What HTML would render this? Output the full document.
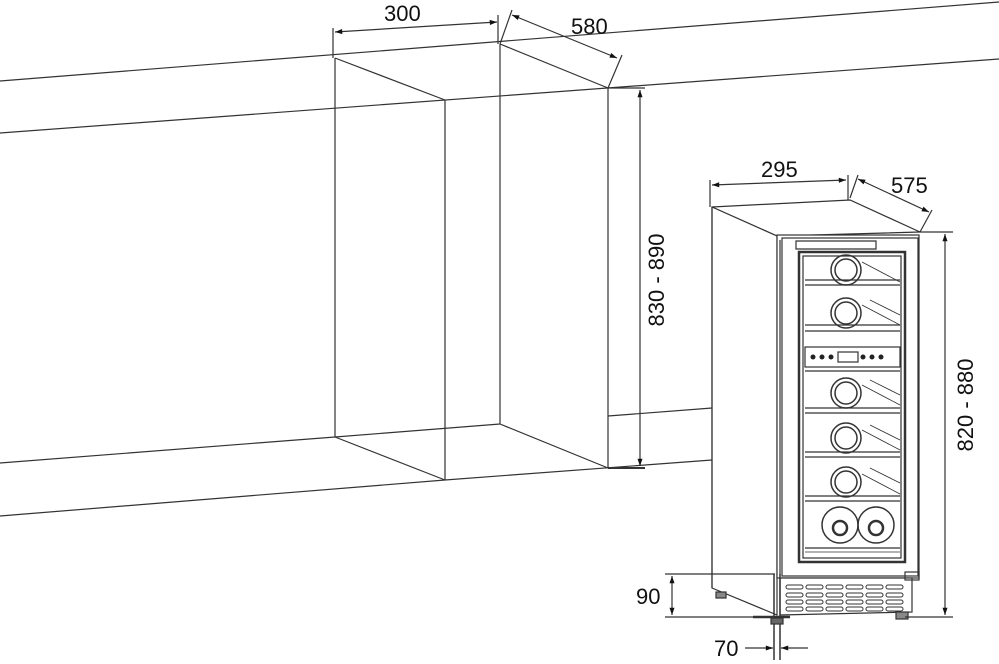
<!DOCTYPE html>
<html><head><style>html,body{margin:0;padding:0;background:#fff}svg{display:block}text{font-family:"Liberation Sans",sans-serif;font-size:22px;fill:#111}</style></head>
<body>
<svg width="999" height="664" viewBox="0 0 999 664" xmlns="http://www.w3.org/2000/svg">
<defs>
<marker id="a" viewBox="0 0 10 10" refX="10" refY="5" markerWidth="8" markerHeight="6" orient="auto-start-reverse"><path d="M0,1.5 L10,5 L0,8.5 Z" fill="#111"/></marker>
</defs>
<g stroke="#333" stroke-width="1.2" fill="none">
<line x1="0" y1="81" x2="999" y2="2"/>
<line x1="0" y1="133" x2="999" y2="59"/>
<line x1="0" y1="463" x2="335" y2="437"/>
<line x1="608" y1="416" x2="712" y2="408"/>
<line x1="0" y1="516" x2="445" y2="480"/>
<line x1="445" y1="480" x2="712" y2="460"/>
<line x1="335" y1="58" x2="335" y2="437"/>
<line x1="445" y1="100" x2="445" y2="480"/>
<line x1="500" y1="44" x2="500" y2="424"/>
<line x1="608" y1="88" x2="608" y2="468"/>
<line x1="335" y1="58" x2="445" y2="100"/>
<line x1="500" y1="44" x2="608" y2="88"/>
<line x1="335" y1="437" x2="500" y2="424"/>
<line x1="335" y1="437" x2="445" y2="480"/>
<line x1="500" y1="424" x2="608" y2="468"/>
<line x1="333" y1="58" x2="333" y2="28"/>
<line x1="498" y1="44" x2="498" y2="15"/>
<line x1="335" y1="32" x2="497" y2="22" marker-start="url(#a)" marker-end="url(#a)"/>
<line x1="500" y1="44" x2="512" y2="10"/>
<line x1="608" y1="88" x2="622" y2="55"/>
<line x1="512" y1="15" x2="617" y2="58" marker-start="url(#a)" marker-end="url(#a)"/>
<line x1="608" y1="88" x2="645" y2="88"/>
<line x1="608" y1="468" x2="645" y2="468" stroke-width="2"/>
<line x1="640" y1="90" x2="640" y2="466" marker-start="url(#a)" marker-end="url(#a)"/>
<path d="M712,207 L850,200 L920,232 L777,236 Z" fill="#fff"/>
<path d="M712,207 L777,236 L777,615 L712,588 Z" fill="#fff"/>
<line x1="712" y1="207" x2="712" y2="588"/>
<rect x="777" y="235" width="142" height="343" fill="#fff"/>
<rect x="782" y="238" width="136" height="338"/>
<rect x="799" y="252" width="106" height="310" stroke-width="2.5"/>
<rect x="803" y="256" width="98" height="302"/>
<path d="M796,241 h80 v8 h-80 z"/>
<line x1="780" y1="240" x2="780" y2="575"/>
<g>
<line x1="805" y1="280" x2="900" y2="280"/><line x1="805" y1="285" x2="900" y2="285"/>
<line x1="805" y1="325" x2="900" y2="325"/><line x1="805" y1="331" x2="900" y2="331"/>
<rect x="805" y="347" width="95" height="20"/>
<line x1="805" y1="371" x2="900" y2="371"/>
<line x1="805" y1="408" x2="900" y2="408"/><line x1="805" y1="413" x2="900" y2="413"/>
<line x1="805" y1="452" x2="900" y2="452"/><line x1="805" y1="457" x2="900" y2="457"/>
<line x1="805" y1="496" x2="900" y2="496"/><line x1="805" y1="501" x2="900" y2="501"/>
<line x1="805" y1="548" x2="900" y2="548"/>
</g>
<g stroke-width="1.5">
<circle cx="846" cy="270" r="15"/><circle cx="846" cy="270" r="11"/>
<circle cx="846" cy="313" r="15"/><circle cx="846" cy="313" r="11"/>
<circle cx="846" cy="393" r="15"/><circle cx="846" cy="393" r="11"/>
<circle cx="846" cy="438" r="15"/><circle cx="846" cy="438" r="11"/>
<circle cx="846" cy="482" r="15"/><circle cx="846" cy="482" r="11"/>
<circle cx="840" cy="525" r="18"/><circle cx="876" cy="525" r="18"/>
<circle cx="840" cy="528" r="7" stroke-width="2.5"/><circle cx="876" cy="528" r="7" stroke-width="2.5"/>
</g>
<g stroke-width="0.8">
<line x1="862" y1="262" x2="900" y2="282"/><line x1="862" y1="305" x2="900" y2="325"/><line x1="870" y1="300" x2="900" y2="315"/>
<line x1="862" y1="385" x2="900" y2="405"/><line x1="862" y1="430" x2="900" y2="450"/><line x1="862" y1="474" x2="900" y2="494"/>
<line x1="870" y1="380" x2="900" y2="395"/><line x1="870" y1="425" x2="900" y2="440"/><line x1="870" y1="468" x2="900" y2="483"/>
<line x1="805" y1="552" x2="900" y2="552"/>
</g>
<g fill="#222" stroke="none">
<circle cx="813" cy="357" r="2.5"/><circle cx="822" cy="357" r="2.5"/><circle cx="831" cy="357" r="2.5"/>
<circle cx="863" cy="357" r="2.5"/><circle cx="872" cy="357" r="2.5"/><circle cx="881" cy="357" r="2.5"/>
</g>
<rect x="838" y="352" width="20" height="10"/>
<path d="M780,578 L912,578 L912,612 L780,615 Z" fill="#fff"/>
<g stroke-width="1">
<rect x="786" y="585" width="17" height="4" rx="2"/><rect x="806" y="585" width="17" height="4" rx="2"/><rect x="826" y="585" width="17" height="4" rx="2"/><rect x="846" y="585" width="17" height="4" rx="2"/><rect x="866" y="585" width="17" height="4" rx="2"/><rect x="886" y="585" width="17" height="4" rx="2"/>
<rect x="786" y="593" width="17" height="4" rx="2"/><rect x="806" y="593" width="17" height="4" rx="2"/><rect x="826" y="593" width="17" height="4" rx="2"/><rect x="846" y="593" width="17" height="4" rx="2"/><rect x="866" y="593" width="17" height="4" rx="2"/><rect x="886" y="593" width="17" height="4" rx="2"/>
<rect x="786" y="600" width="17" height="4" rx="2"/><rect x="806" y="600" width="17" height="4" rx="2"/><rect x="826" y="600" width="17" height="4" rx="2"/><rect x="846" y="600" width="17" height="4" rx="2"/><rect x="866" y="600" width="17" height="4" rx="2"/><rect x="886" y="600" width="17" height="4" rx="2"/>
<rect x="786" y="607" width="17" height="4" rx="2"/><rect x="806" y="607" width="17" height="4" rx="2"/><rect x="826" y="607" width="17" height="4" rx="2"/><rect x="846" y="607" width="17" height="4" rx="2"/><rect x="866" y="607" width="17" height="4" rx="2"/><rect x="886" y="607" width="17" height="4" rx="2"/>
</g>
<rect x="896" y="612" width="12" height="7" fill="#888"/>
<rect x="716" y="592" width="10" height="6" fill="#888"/>
<rect x="905" y="572" width="14" height="8"/>
<line x1="710" y1="207" x2="710" y2="180"/>
<line x1="848" y1="200" x2="848" y2="175"/>
<line x1="712" y1="185" x2="846" y2="180" marker-start="url(#a)" marker-end="url(#a)"/>
<line x1="850" y1="198" x2="858" y2="175"/>
<line x1="920" y1="232" x2="932" y2="210"/>
<line x1="858" y1="179" x2="929" y2="212" marker-start="url(#a)" marker-end="url(#a)"/>
<line x1="920" y1="232" x2="953" y2="232"/>
<line x1="905" y1="617" x2="953" y2="617"/>
<line x1="945" y1="234" x2="945" y2="615" marker-start="url(#a)" marker-end="url(#a)"/>
<line x1="665" y1="574" x2="775" y2="574"/>
<line x1="665" y1="617" x2="775" y2="617"/>
<line x1="753" y1="617" x2="790" y2="617" stroke-width="2.5"/>
<line x1="672" y1="576" x2="672" y2="615" marker-start="url(#a)" marker-end="url(#a)"/>
<line x1="774" y1="574" x2="774" y2="660" stroke-width="1.5"/>
<line x1="780" y1="574" x2="780" y2="660" stroke-width="1.5"/>
<rect x="771" y="618" width="12" height="6" fill="#666"/>
<line x1="745" y1="648" x2="773" y2="648" marker-end="url(#a)"/>
<line x1="808" y1="648" x2="781" y2="648" marker-end="url(#a)"/>
</g>
<text x="384" y="21">300</text>
<text x="571" y="34">580</text>
<text x="761" y="177">295</text>
<text x="891" y="193">575</text>
<text x="636" y="604">90</text>
<text x="714" y="656">70</text>
<text transform="translate(664,280) rotate(-90)" text-anchor="middle">830 - 890</text>
<text transform="translate(973,405) rotate(-90)" text-anchor="middle">820 - 880</text>
</svg>
</body></html>
